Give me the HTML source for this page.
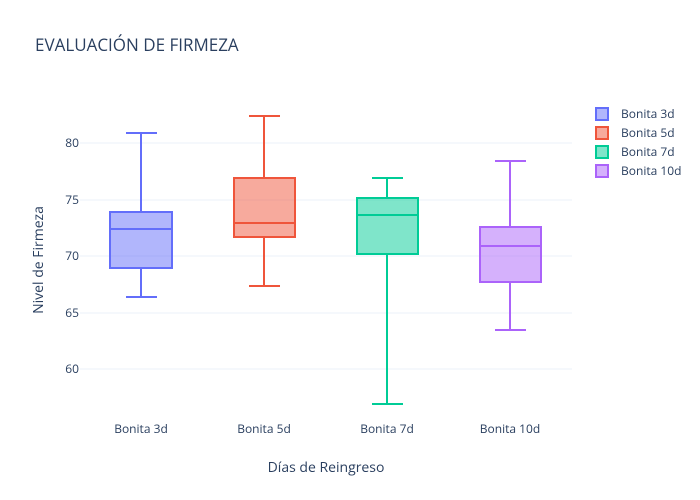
<!DOCTYPE html>
<html><head><meta charset="utf-8"><style>body{margin:0;background:#fff}svg{display:block;font-family:"Open Sans","Liberation Sans",sans-serif}</style></head><body>
<svg width="700" height="500" viewBox="0 0 700 500">
<rect width="700" height="500" fill="#fff"/>
<g stroke="#ebf0f8" stroke-width="1">
<line x1="80" x2="572" y1="143" y2="143"/><line x1="80" x2="572" y1="200" y2="200"/><line x1="80" x2="572" y1="256" y2="256"/><line x1="80" x2="572" y1="313" y2="313"/><line x1="80" x2="572" y1="369" y2="369"/>
</g>
<g fill="#2a3f5f" font-size="12" text-anchor="end">
<text x="79" y="147">80</text><text x="79" y="204">75</text><text x="79" y="260">70</text><text x="79" y="317">65</text><text x="79" y="373">60</text>
</g>
<g fill="#2a3f5f" font-size="12" text-anchor="middle">
<text x="141" y="433">Bonita 3d</text><text x="264" y="433">Bonita 5d</text><text x="387" y="433">Bonita 7d</text><text x="510" y="433">Bonita 10d</text>
</g>
<g stroke-width="2">
<g stroke="#636efa"><line x1="141" x2="141" y1="133" y2="212"/><line x1="141" x2="141" y1="268" y2="297"/><line x1="126" x2="157" y1="133" y2="133"/><line x1="126" x2="157" y1="297" y2="297"/><rect x="110" y="212" width="62" height="56" fill="rgba(99,110,250,0.5)"/><line x1="110" x2="172" y1="229" y2="229"/></g>
<g stroke="#EF553B"><line x1="264" x2="264" y1="116" y2="178"/><line x1="264" x2="264" y1="237" y2="286"/><line x1="249" x2="280" y1="116" y2="116"/><line x1="249" x2="280" y1="286" y2="286"/><rect x="234" y="178" width="61" height="59" fill="rgba(239,85,59,0.5)"/><line x1="234" x2="295" y1="223" y2="223"/></g>
<g stroke="#00cc96"><line x1="387" x2="387" y1="178" y2="198"/><line x1="387" x2="387" y1="254" y2="404"/><line x1="372" x2="403" y1="178" y2="178"/><line x1="372" x2="403" y1="404" y2="404"/><rect x="357" y="198" width="61" height="56" fill="rgba(0,204,150,0.5)"/><line x1="357" x2="418" y1="215" y2="215"/></g>
<g stroke="#ab63fa"><line x1="510" x2="510" y1="161" y2="227"/><line x1="510" x2="510" y1="282" y2="330"/><line x1="495" x2="526" y1="161" y2="161"/><line x1="495" x2="526" y1="330" y2="330"/><rect x="480" y="227" width="61" height="55" fill="rgba(171,99,250,0.5)"/><line x1="480" x2="541" y1="246" y2="246"/></g>
</g>
<g stroke-width="2" font-size="12">
<rect x="596" y="108" width="12" height="12" stroke="#636efa" fill="rgba(99,110,250,0.5)"/>
<rect x="596" y="127" width="12" height="12" stroke="#EF553B" fill="rgba(239,85,59,0.5)"/>
<rect x="596" y="146" width="12" height="12" stroke="#00cc96" fill="rgba(0,204,150,0.5)"/>
<rect x="596" y="165" width="12" height="12" stroke="#ab63fa" fill="rgba(171,99,250,0.5)"/>
</g>
<g fill="#2a3f5f" font-size="12">
<text x="621" y="118">Bonita 3d</text><text x="621" y="137">Bonita 5d</text><text x="621" y="156">Bonita 7d</text><text x="621" y="175">Bonita 10d</text>
</g>
<text x="35" y="51" font-size="17" fill="#2a3f5f">EVALUACIÓN DE FIRMEZA</text>
<text x="326" y="472" font-size="14" fill="#2a3f5f" text-anchor="middle">Días de Reingreso</text>
<text transform="translate(43,260) rotate(-90)" font-size="14" fill="#2a3f5f" text-anchor="middle">Nivel de Firmeza</text>
</svg>
</body></html>
